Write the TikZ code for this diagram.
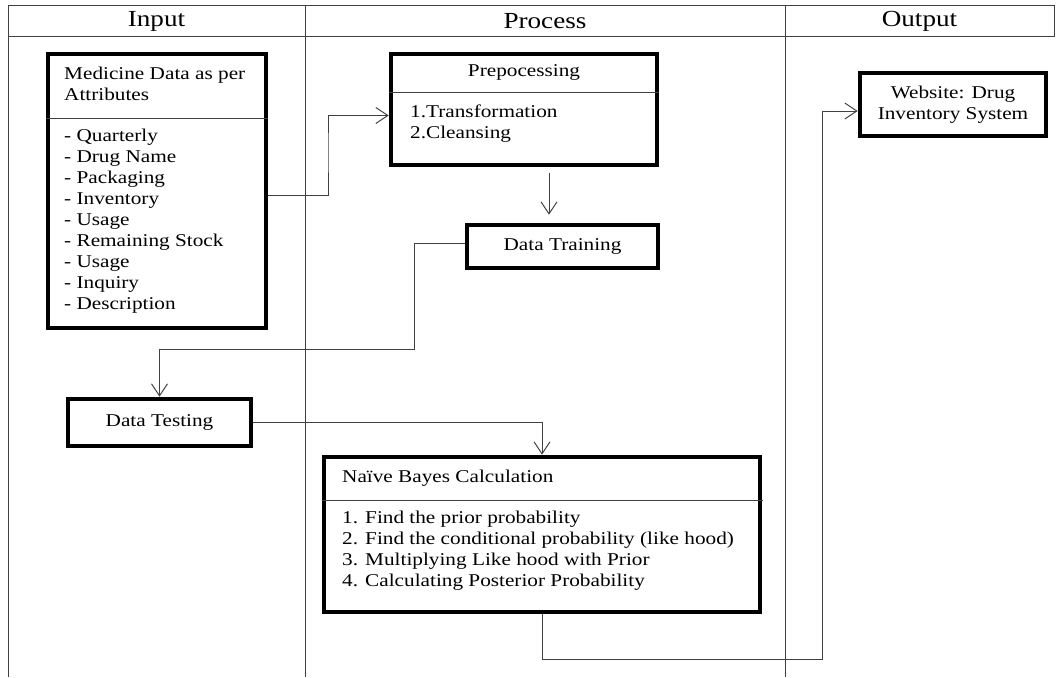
\documentclass[tikz,border=0pt]{standalone}
\usepackage{fontspec}
\setmainfont{Liberation Serif}[FakeStretch=1.18]
\usetikzlibrary{arrows.meta, positioning, calc}

\begin{document}
\begin{tikzpicture}[
    x=1pt, y=-1pt,
    frame/.style={draw=black!75, line width=1pt},
    block/.style={rectangle, draw=black, line width=4.6pt, inner sep=0pt, align=center, font=\fontsize{18}{21}\selectfont},
    txt/.style={inner sep=0pt, align=left, font=\fontsize{18}{21}\selectfont},
    divider/.style={draw=black!75, line width=0.9pt},
    head/.style={inner sep=0pt, font=\fontsize{23}{26}\selectfont},
    arrow/.style={draw=black!75, line width=1pt, -{Straight Barb[length=12pt, width=16pt, line width=1pt]}}
]
\useasboundingbox (0,0) rectangle (1056,677);

% === SWIMLANES ===
\draw[frame] (8,677) -- (8,6) -- (1054,6) -- (1054,37) -- (8,37);
\draw[frame] (305,6) -- (305,677);
\draw[frame] (785,6) -- (785,677);
\node[head] (laneinput) at (156.5,21) {Input};
\node[head] (laneprocess) at (545,21) {Process};
\node[head] (laneoutput) at (919.5,21) {Output};

% === INPUT ===
\node[block, minimum width=218pt, minimum height=274pt] (med) at (157,191) {};
\node[txt, anchor=west] (medhead) at (64,83.5) {Medicine Data as per\\Attributes};
\draw[divider] (med.west |- 0,118) -- (med.east |- 0,118);
\node[txt, anchor=west] (medlist) at (64,221) {- Quarterly\\- Drug Name\\- Packaging\\- Inventory\\- Usage\\- Remaining Stock\\- Usage\\- Inquiry\\- Description};

\node[block, minimum width=183pt, minimum height=47pt] (test) at (159.5,422.5) {Data Testing};

% === PROCESS ===
\node[block, minimum width=266pt, minimum height=111pt] (prep) at (524,109.5) {};
\node[txt] (prephead) at (524,72) {Prepocessing};
\draw[divider] (prep.west |- 0,92) -- (prep.east |- 0,92);
\node[txt, anchor=west] (preplist) at (410,124) {1.Transformation\\2.Cleansing};

\node[block, minimum width=191pt, minimum height=43pt] (train) at (562.5,246.5) {Data Training};

\node[block, minimum width=436pt, minimum height=155pt] (nb) at (542,534.5) {};
\node[txt, anchor=west] (nbhead) at (342,478) {Naïve Bayes Calculation};
\draw[divider] (nb.west |- 0,500) -- (763,500);
\node[txt, anchor=west] (nblist) at (342,551) {1. Find the prior probability\\2. Find the conditional probability (like hood)\\3. Multiplying Like hood with Prior\\4. Calculating Posterior Probability};

% === OUTPUT ===
\node[block, minimum width=186pt, minimum height=63pt] (web) at (953,104.5) {Website: Drug\\Inventory System};

% === ARROWS ===
\draw[arrow] ([yshift=-4pt]med.east) -| (328,150) |- ([yshift=-6pt]prep.west);
\draw[arrow, shorten <=6pt, shorten >=8pt] (prep.south -| 549,0) -- (train.north -| 549,0);
\draw[arrow] ([yshift=3pt]train.west) -| (414,349) -| (test.north);
\draw[arrow] (test.east) -| (nb.north);
\draw[arrow] (nb.south) |- (822,659) |- ([yshift=-6.5pt]web.west);

\end{tikzpicture}
\end{document}
